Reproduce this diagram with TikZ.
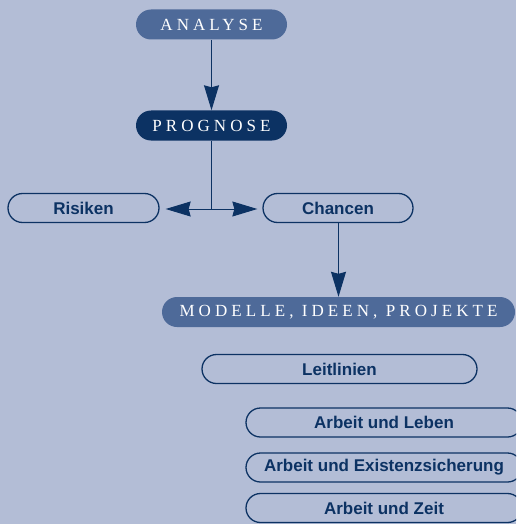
\documentclass[tikz,border=0pt]{standalone}
\usepackage{fontspec}
\setmainfont{Liberation Serif}
\setsansfont{Liberation Sans}
\usetikzlibrary{arrows.meta}
\definecolor{bgblue}{RGB}{179,189,214}
\definecolor{midblue}{RGB}{78,106,153}
\definecolor{navy}{RGB}{12,50,99}

\tikzset{
  stage/.style={rounded corners=15pt, minimum width=151pt, minimum height=30pt, inner sep=0pt,
    text=white, font=\fontsize{17}{17}\selectfont\addfontfeature{LetterSpace=24}},
  choice/.style={draw=navy, line width=1.3pt, rounded corners=14.5pt, minimum height=29pt,
    inner sep=0pt, text=navy, font=\sffamily\bfseries\fontsize{17}{17}\selectfont},
  flow/.style={draw=navy, line width=1pt, -{Stealth[length=25pt,width=15pt,inset=2pt]}}
}

\begin{document}
\begin{tikzpicture}[x=1pt, y=-1pt]
    % Frame and background
    \useasboundingbox (0,0) rectangle (516,524);
    \clip (0,0) rectangle (516,524);
    \fill[bgblue] (0,0) rectangle (516,524);

    % Stages
    \node[stage, fill=midblue] (analyse) at (211.5,24.5) {ANALYSE};
    \node[stage, fill=navy] (prognose) at (211.5,125.5) {PROGNOSE};
    \node[stage, fill=midblue, minimum width=353pt] (modelle) at (338.5,312) {MODELLE, IDEEN, PROJEKTE};

    % Risks and chances
    \node[choice, minimum width=151pt] (risiken) at (83.5,208) {Risiken};
    \node[choice, minimum width=150pt] (chancen) at (338,208) {Chancen};

    % Guidelines
    \node[choice, minimum width=275pt] (leitlinien) at (339.5,369) {Leitlinien};
    \node[choice, minimum width=276pt] (leben) at (384,422.5) {Arbeit und Leben};
    \node[choice, minimum width=276pt] (existenz) at (384,467.5) {Arbeit und Existenzsicherung};
    \node[choice, minimum width=276pt] (zeit) at (384,508) {Arbeit und Zeit};

    % Connectors
    \coordinate (split) at (211.5,209);
    \draw[flow] (analyse) -- (prognose);
    \draw[draw=navy, line width=1pt] (prognose) -- (split);
    \draw[flow, shorten >=6pt] (split) -- (split -| risiken.east);
    \draw[flow, shorten >=5pt] (split) -- (split -| chancen.west);
    \draw[flow] (chancen.south -| modelle.north) -- (modelle.north);

\end{tikzpicture}
\end{document}
